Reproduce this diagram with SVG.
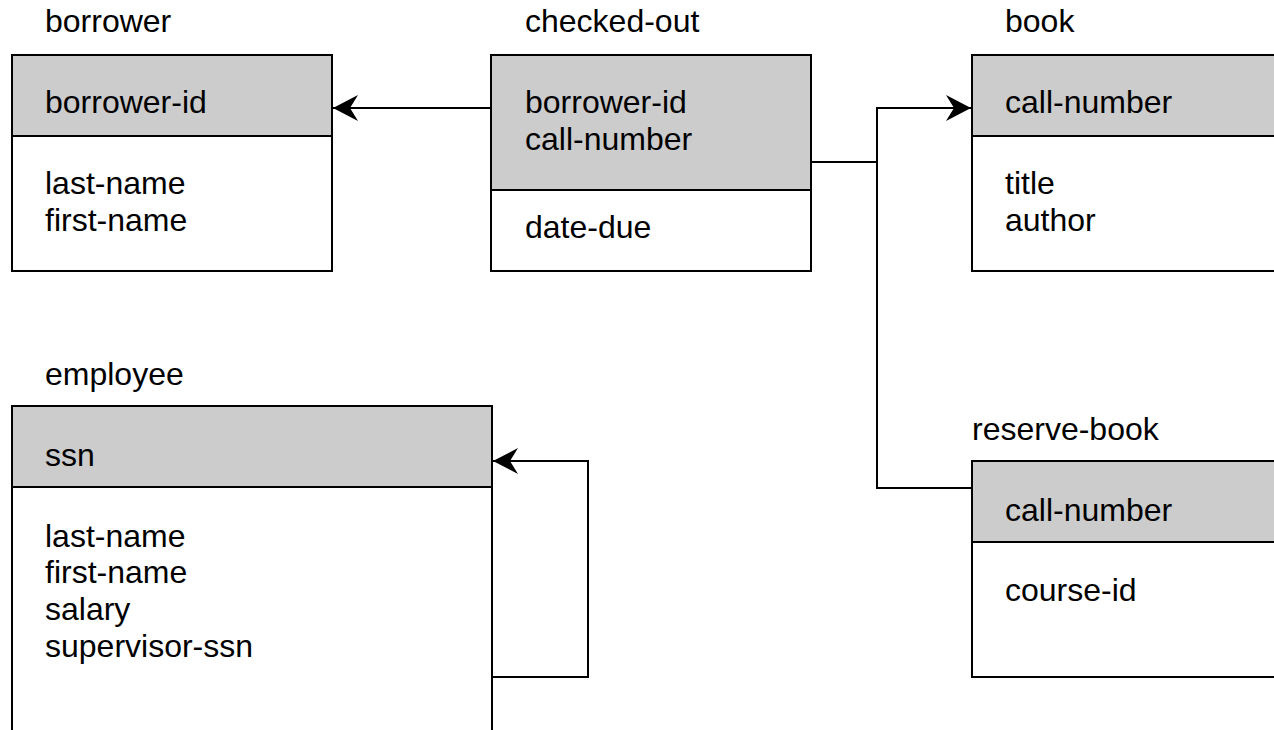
<svg xmlns="http://www.w3.org/2000/svg" width="1274" height="730" viewBox="0 0 1274 730">
<style>
text{font-family:"Liberation Sans",Arial,sans-serif;font-size:32px;fill:#000}
.box{fill:#fff;stroke:#000;stroke-width:2}
.hdr{fill:#ccc;stroke:#000;stroke-width:2}
.conn{fill:none;stroke:#000;stroke-width:2}
</style>
<defs>
<marker id="arr" markerUnits="userSpaceOnUse" viewBox="-26 -14 27 28" markerWidth="27" markerHeight="28" refX="0" refY="0" orient="auto">
<path d="M0,0 L-25,-13 L-17,0 L-25,13 Z" fill="#000"/>
</marker>
</defs>
<rect width="1274" height="730" fill="#fff"/>
<g id="borrower">
<text x="45" y="32">borrower</text>
<rect class="box" x="12" y="55" width="320" height="216"/>
<rect class="hdr" x="12" y="55" width="320" height="81"/>
<text x="45" y="113">borrower-id</text>
<text x="45" y="194">last-name</text>
<text x="45" y="231">first-name</text>
</g>
<g id="checked-out">
<text x="525" y="32">checked-out</text>
<rect class="box" x="491" y="55" width="320" height="216"/>
<rect class="hdr" x="491" y="55" width="320" height="135"/>
<text x="525" y="113">borrower-id</text>
<text x="525" y="150">call-number</text>
<text x="525" y="238">date-due</text>
</g>
<g id="book">
<text x="1005" y="32">book</text>
<rect class="box" x="972" y="55" width="320" height="216"/>
<rect class="hdr" x="972" y="55" width="320" height="81"/>
<text x="1005" y="113">call-number</text>
<text x="1005" y="194">title</text>
<text x="1005" y="231">author</text>
</g>
<g id="employee">
<text x="45" y="385">employee</text>
<rect class="box" x="12" y="406" width="480" height="350"/>
<rect class="hdr" x="12" y="406" width="480" height="81"/>
<text x="45" y="466">ssn</text>
<text x="45" y="547">last-name</text>
<text x="45" y="583">first-name</text>
<text x="45" y="620">salary</text>
<text x="45" y="657">supervisor-ssn</text>
</g>
<g id="reserve-book">
<text x="972" y="440">reserve-book</text>
<rect class="box" x="972" y="461" width="320" height="216"/>
<rect class="hdr" x="972" y="461" width="320" height="81"/>
<text x="1005" y="521">call-number</text>
<text x="1005" y="601">course-id</text>
</g>
<g id="connectors">
<path class="conn" d="M491,108 H333" marker-end="url(#arr)"/>
<path class="conn" d="M811,162 H877 V108 H971" marker-end="url(#arr)"/>
<path class="conn" d="M877,162 V488 H972"/>
<path class="conn" d="M492,677 H588 V461 H493" marker-end="url(#arr)"/>
</g>
</svg>
